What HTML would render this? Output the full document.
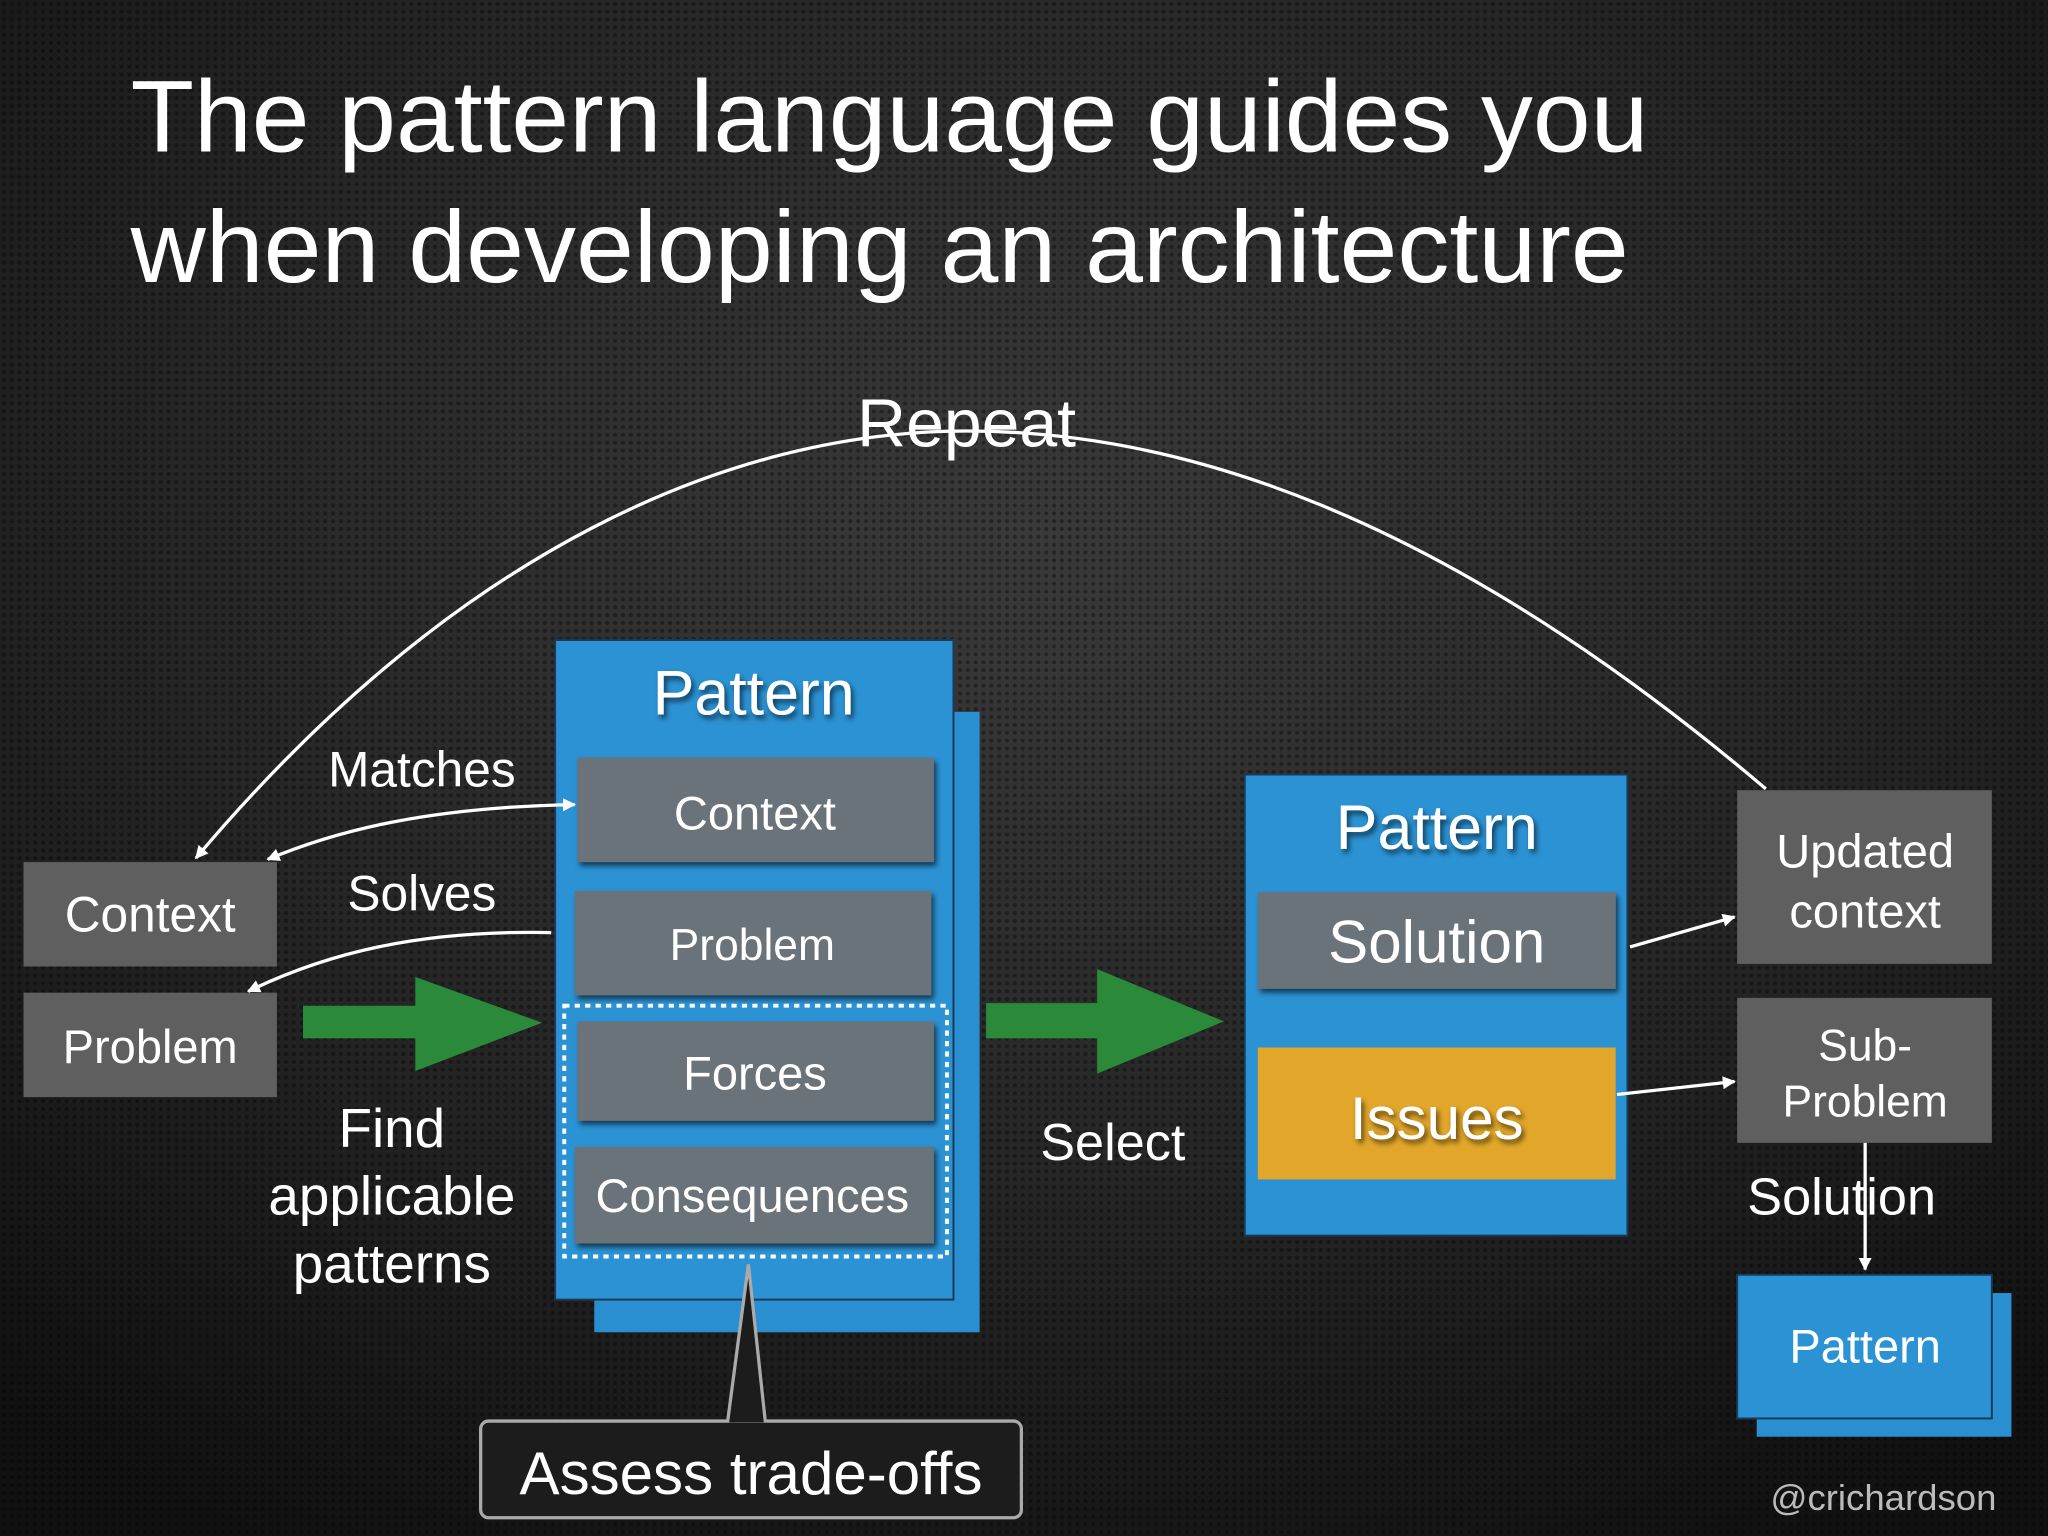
<!DOCTYPE html>
<html><head><meta charset="utf-8"><style>
html,body{margin:0;padding:0;width:2048px;height:1536px;overflow:hidden;background:#1a1a1a}
svg{display:block}
text{font-family:"Liberation Sans",sans-serif;fill:#fff}
</style></head><body>
<svg width="2048" height="1536" viewBox="0 0 1568 1176" xmlns="http://www.w3.org/2000/svg">
<defs>
<radialGradient id="bg" cx="50%" cy="35%" r="75%">
<stop offset="0" stop-color="#3a3a3a"/><stop offset="0.6" stop-color="#242424"/><stop offset="1" stop-color="#111"/>
</radialGradient>
<pattern id="dots" width="6" height="6" patternUnits="userSpaceOnUse">
<circle cx="3" cy="3" r="1.6" fill="#000" opacity="0.35"/>
</pattern>
<marker id="ah" markerWidth="10" markerHeight="10" refX="9" refY="5" orient="auto-start-reverse" markerUnits="userSpaceOnUse">
<path d="M0,0 L10,5 L0,10 Z" fill="#fff"/>
</marker>
<filter id="sh"><feDropShadow dx="2" dy="3" stdDeviation="2" flood-color="#000" flood-opacity="0.6"/></filter>
</defs>
<rect width="1568" height="1176" fill="url(#bg)"/>
<rect width="1568" height="1176" fill="url(#dots)"/>

<text x="100" y="116" font-size="78" textLength="1162" lengthAdjust="spacingAndGlyphs">The pattern language guides you</text>
<text x="100" y="216" font-size="78" textLength="1147" lengthAdjust="spacingAndGlyphs">when developing an architecture</text>

<!-- repeat arc -->
<path d="M1352,604 C1100,390 900,330 740,330 C560,330 350,420 150,657" fill="none" stroke="#fff" stroke-width="2.5" marker-end="url(#ah)"/>
<text x="740" y="342" font-size="52" text-anchor="middle">Repeat</text>

<!-- left boxes -->
<rect x="18" y="660" width="194" height="80" fill="#5f5f5f"/>
<text x="115" y="713" font-size="38" text-anchor="middle">Context</text>
<rect x="18" y="760" width="194" height="80" fill="#5f5f5f"/>
<text x="115" y="814" font-size="36" text-anchor="middle">Problem</text>

<text x="323" y="602" font-size="38" text-anchor="middle">Matches</text>
<text x="323" y="697" font-size="38" text-anchor="middle">Solves</text>
<path d="M422,714 C320,712 250,730 190,759" fill="none" stroke="#fff" stroke-width="2.5" marker-end="url(#ah)"/>

<!-- green arrow 1 -->
<path d="M232,770 L318,770 L318,748 L415,783 L318,820 L318,795 L232,795 Z" fill="#2b8a3a"/>
<text x="300" y="878" font-size="42" text-anchor="middle">Find</text>
<text x="300" y="930" font-size="42" text-anchor="middle">applicable</text>
<text x="300" y="982" font-size="42" text-anchor="middle">patterns</text>

<!-- big pattern card -->
<rect x="455" y="545" width="295" height="475" fill="#2a8fd0"/>
<rect x="425" y="490" width="305" height="505" fill="#2b92d4" stroke="#1a3a55" stroke-width="1.5"/>
<text x="577" y="547" font-size="48" text-anchor="middle" filter="url(#sh)">Pattern</text>
<g filter="url(#sh)">
<rect x="442" y="580" width="273" height="80" fill="#6b737a"/>
<rect x="440" y="682" width="273" height="80" fill="#6b737a"/>
<rect x="442" y="782" width="273" height="76" fill="#6b737a"/>
<rect x="440" y="878" width="275" height="74" fill="#6b737a"/>
</g>
<text x="578" y="635" font-size="36" text-anchor="middle">Context</text>
<text x="576" y="735" font-size="34" text-anchor="middle">Problem</text>
<text x="578" y="834" font-size="36" text-anchor="middle">Forces</text>
<text x="576" y="928" font-size="36" text-anchor="middle">Consequences</text>
<rect x="432" y="770" width="293" height="192" fill="none" stroke="#fff" stroke-width="3" stroke-dasharray="4,4"/>
<path d="M205,658 C260,635 330,618 440,616" fill="none" stroke="#fff" stroke-width="2.5" marker-start="url(#ah)" marker-end="url(#ah)"/>

<!-- callout -->
<rect x="368" y="1088" width="414" height="74" rx="6" fill="#1c1c1c" stroke="#aaa" stroke-width="2.5"/>
<path d="M557,1089 L573,968 L586,1089" fill="#1c1c1c" stroke="#aaa" stroke-width="2.5"/>
<text x="575" y="1144" font-size="46" text-anchor="middle">Assess trade-offs</text>

<!-- green arrow 2 -->
<path d="M755,768 L840,768 L840,742 L937,782 L840,822 L840,795 L755,795 Z" fill="#2b8a3a"/>
<text x="852" y="888" font-size="40" text-anchor="middle">Select</text>

<!-- middle pattern card -->
<rect x="953" y="593" width="293" height="353" fill="#2b92d4" stroke="#1a3a55" stroke-width="1.5"/>
<text x="1100" y="650" font-size="48" text-anchor="middle" filter="url(#sh)">Pattern</text>
<rect x="963" y="683" width="274" height="74" fill="#6b737a" filter="url(#sh)"/>
<text x="1100" y="737" font-size="46" text-anchor="middle">Solution</text>
<rect x="963" y="802" width="274" height="101" fill="#e2a72a"/>
<text x="1100" y="872" font-size="46" text-anchor="middle" filter="url(#sh)">Issues</text>

<!-- right -->
<path d="M1248,725 L1328,702" stroke="#fff" stroke-width="2.5" marker-end="url(#ah)"/>
<path d="M1238,838 L1328,828" stroke="#fff" stroke-width="2.5" marker-end="url(#ah)"/>
<rect x="1330" y="605" width="195" height="133" fill="#5f5f5f"/>
<text x="1428" y="664" font-size="36" text-anchor="middle">Updated</text>
<text x="1428" y="710" font-size="36" text-anchor="middle">context</text>
<rect x="1330" y="764" width="195" height="111" fill="#5f5f5f"/>
<text x="1428" y="812" font-size="34" text-anchor="middle">Sub-</text>
<text x="1428" y="855" font-size="34" text-anchor="middle">Problem</text>
<text x="1410" y="930" font-size="40" text-anchor="middle">Solution</text>
<path d="M1428,875 L1428,972" stroke="#fff" stroke-width="2.5" marker-end="url(#ah)"/>
<rect x="1345" y="990" width="195" height="110" fill="#2a8fd0"/>
<rect x="1330" y="976" width="195" height="110" fill="#2b92d4" stroke="#1a3a55" stroke-width="1.5"/>
<text x="1428" y="1043" font-size="36" text-anchor="middle">Pattern</text>

<text x="1442" y="1156" font-size="28" text-anchor="middle" style="fill:#bbb">@crichardson</text>
</svg>
</body></html>
